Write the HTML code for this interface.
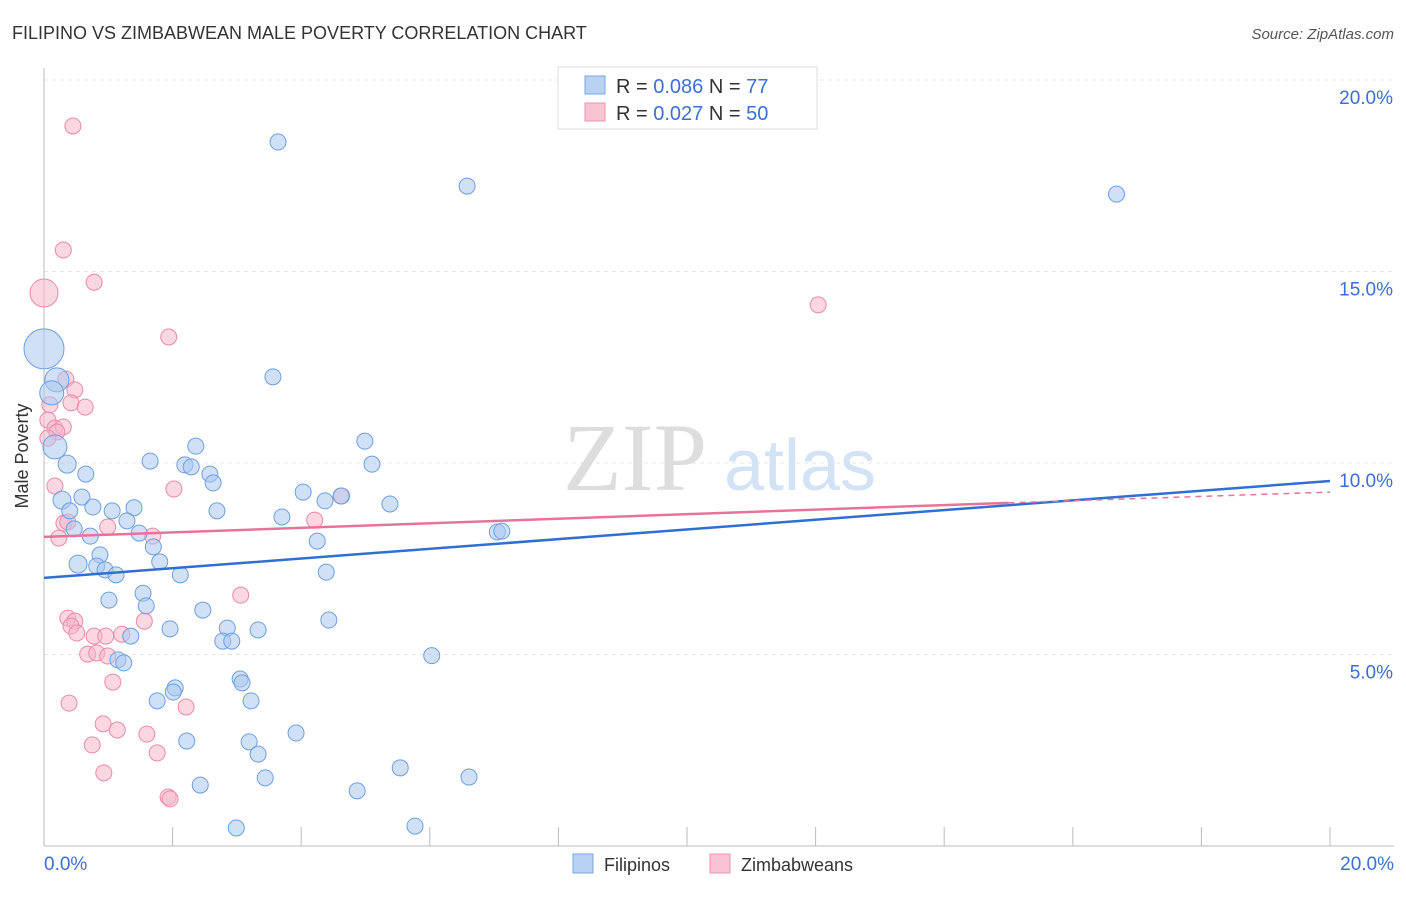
<!DOCTYPE html>
<html><head><meta charset="utf-8"><style>
body{margin:0;background:#fff;font-family:"Liberation Sans",sans-serif}
</style></head><body>
<svg width="1406" height="892" xmlns="http://www.w3.org/2000/svg" font-family="Liberation Sans, sans-serif">
<text x="12" y="39" font-size="18" fill="#333">FILIPINO VS ZIMBABWEAN MALE POVERTY CORRELATION CHART</text>
<text x="1394" y="39" font-size="15" fill="#555" font-style="italic" text-anchor="end">Source: ZipAtlas.com</text>
<g id="grid"></g>
<text x="635" y="490" font-size="96" fill="#ddd" font-family="Liberation Serif, serif" text-anchor="middle">ZIP</text>
<text x="800" y="490" font-size="72" fill="#d3e2f5" text-anchor="middle">atlas</text>
<g id="axes"></g>
<g id="pts"></g>
<g id="trend"></g>
<text x="28" y="456" font-size="18" fill="#333" text-anchor="middle" transform="rotate(-90 28 456)">Male Poverty</text>
<g>
<rect x="558" y="67" width="259" height="62" fill="#fff" stroke="#ddd"/>
<rect x="585" y="76" width="20" height="18" fill="#b8d2f4" stroke="#7aa6e2"/>
<rect x="585" y="103" width="20" height="18" fill="#f9c3d4" stroke="#eb93b0"/>
<text x="616" y="93" font-size="20" fill="#333">R = <tspan fill="#3a6fd8">0.086</tspan>   N = <tspan fill="#3a6fd8">77</tspan></text>
<text x="616" y="120" font-size="20" fill="#333">R = <tspan fill="#3a6fd8">0.027</tspan>   N = <tspan fill="#3a6fd8">50</tspan></text>
</g>
<g>
<rect x="573" y="854" width="20" height="19" fill="#b8d2f4" stroke="#7aa6e2"/>
<text x="604" y="871" font-size="18" fill="#333">Filipinos</text>
<rect x="710" y="854" width="20" height="19" fill="#f9c3d4" stroke="#eb93b0"/>
<text x="741" y="871" font-size="18" fill="#333">Zimbabweans</text>
</g>
</svg>
<script>
const xTicks=["0.0%","20.0%"];
const yTickVals=[5,10,15,20];
const yTickLabels=["5.0%","10.0%","15.0%","20.0%"];
const blueX=[3.64,6.58,16.68,0,0.2,0.12,3.56,0.17,4.99,2.36,5.1,1.65,0.36,0.65,2.19,2.29,2.58,2.63,0.28,0.59,4.03,4.62,4.37,5.38,0.76,0.4,1.06,1.4,2.69,3.7,1.29,0.47,0.72,1.48,7.05,7.12,4.25,1.7,0.87,1.8,0.53,0.82,0.95,1.12,2.12,4.39,1.54,1.01,1.59,2.47,4.43,1.96,2.85,3.33,1.35,2.78,2.92,1.15,1.24,3.05,3.08,6.03,2.04,2.01,1.76,3.22,2.22,3.19,3.92,3.33,5.54,6.61,3.44,2.43,4.87,2.99,5.77];
const blueY=[18.38,17.23,17.02,12.98,12.17,11.83,12.25,10.42,10.57,10.44,9.97,10.05,9.97,9.71,9.95,9.9,9.71,9.48,9.03,9.11,9.24,9.14,9.01,8.93,8.85,8.75,8.75,8.83,8.75,8.59,8.49,8.28,8.09,8.17,8.2,8.22,7.96,7.81,7.6,7.42,7.36,7.31,7.21,7.08,7.08,7.15,6.6,6.42,6.27,6.16,5.9,5.67,5.69,5.64,5.48,5.35,5.35,4.86,4.78,4.36,4.26,4.97,4.13,4.02,3.79,3.79,2.74,2.72,2.95,2.4,2.04,1.8,1.78,1.59,1.44,0.47,0.52];
const blueR=[8,8,8,20,12,12,8,12,8,8,8,8,9,8,8,8,8,8,9,8,8,8,8,8,8,8,8,8,8,8,8,8,8,8,8,8,8,8,8,8,9,8,8,8,8,8,8,8,8,8,8,8,8,8,8,8,8,8,8,8,8,8,8,8,8,8,8,8,8,8,8,8,8,8,8,8,8];
const pinkX=[0.45,0.3,0,0.78,12.04,1.94,0.34,0.48,0.09,0.42,0.64,0.06,0.17,0.3,0.2,0.06,0.17,2.02,4.63,4.21,0.31,0.99,1.69,0.23,0.37,0.48,0.42,0.51,0.78,0.96,1.21,1.56,3.06,0.68,0.82,0.99,1.07,0.39,2.21,0.92,1.14,1.6,0.75,1.76,0.93,1.93,1.96,0.37];
const pinkY=[18.8,15.56,14.44,14.72,14.13,13.29,12.19,11.91,11.52,11.57,11.46,11.12,10.91,10.94,10.81,10.65,9.4,9.32,9.14,8.51,8.43,8.33,8.09,8.04,5.95,5.87,5.74,5.56,5.48,5.48,5.53,5.87,6.55,5.01,5.04,4.96,4.28,3.73,3.63,3.19,3.03,2.92,2.64,2.43,1.91,1.28,1.23,8.46];
const pinkR=[8,8,14,8,8,8,8,8,8,8,8,8,8,8,8,8,8,8,8,8,8,8,8,8,8,8,8,8,8,8,8,8,8,8,8,8,8,8,8,8,8,8,8,8,8,8,8,8];
const blueTrend=[[0,7.0],[20,9.53]];
const pinkTrend=[[0,8.07],[15,8.96],[20,9.24]];
const NS="http://www.w3.org/2000/svg";
const X=v=>44+v*64.3, Y=v=>846-v*38.3;
function mk(tag,at,p){const e=document.createElementNS(NS,tag);for(const k in at)e.setAttribute(k,at[k]);p.appendChild(e);return e;}
const grid=document.getElementById('grid'),axes=document.getElementById('axes'),pts=document.getElementById('pts'),tr=document.getElementById('trend');
yTickVals.forEach((v,i)=>{
 const l=mk('line',{x1:44,x2:1394,y1:Y(v),y2:Y(v),stroke:'#e4e4e4','stroke-dasharray':'4 4'},grid);
 
 
 const t=mk('text',{x:1393,y:Y(v)+24,'font-size':19,fill:'#3a6fd8','text-anchor':'end'},axes);
 t.textContent=yTickLabels[i];
 
 
});
const a1=mk('line',{x1:44,x2:44,y1:68,y2:846,stroke:'#bbb'},axes);


const a2=mk('line',{x1:44,x2:1394,y1:846,y2:846,stroke:'#bbb'},axes);


for(let i=0;i<=10;i++){const t=mk('line',{x1:X(i*2),x2:X(i*2),y1:827,y2:846,stroke:'#bbb'},axes);
 
 }
[[0,'start',44],[1,'end',1394]].forEach(([i,a,x])=>{const t=mk('text',{x:x,y:870,'font-size':19,fill:'#3a6fd8','text-anchor':a},axes);t.textContent=xTicks[i];
 
 });
function dots(xs,ys,rs,f,s,n){xs.forEach((x,i)=>{const c=mk('circle',{cx:X(x),cy:Y(ys[i]),r:rs[i],fill:f,'fill-opacity':0.55,stroke:s,'stroke-width':1},pts);
 
 });}
dots(pinkX,pinkY,pinkR,'#f7b6cb','#ea8aa9','zimbabwean-point');
dots(blueX,blueY,blueR,'#a9c8f1','#6d9fe0','filipino-point');
const bl=mk('line',{x1:X(blueTrend[0][0]),y1:Y(blueTrend[0][1]),x2:X(blueTrend[1][0]),y2:Y(blueTrend[1][1]),stroke:'#2f6fd4','stroke-width':2.5},tr);


const pl=mk('line',{x1:X(pinkTrend[0][0]),y1:Y(pinkTrend[0][1]),x2:X(pinkTrend[1][0]),y2:Y(pinkTrend[1][1]),stroke:'#e8739a','stroke-width':2.5},tr);


const pd=mk('line',{x1:X(pinkTrend[1][0]),y1:Y(pinkTrend[1][1]),x2:X(pinkTrend[2][0]),y2:Y(pinkTrend[2][1]),stroke:'#e8739a','stroke-width':1.5,'stroke-dasharray':'6 5'},tr);


</script>
</body></html>
